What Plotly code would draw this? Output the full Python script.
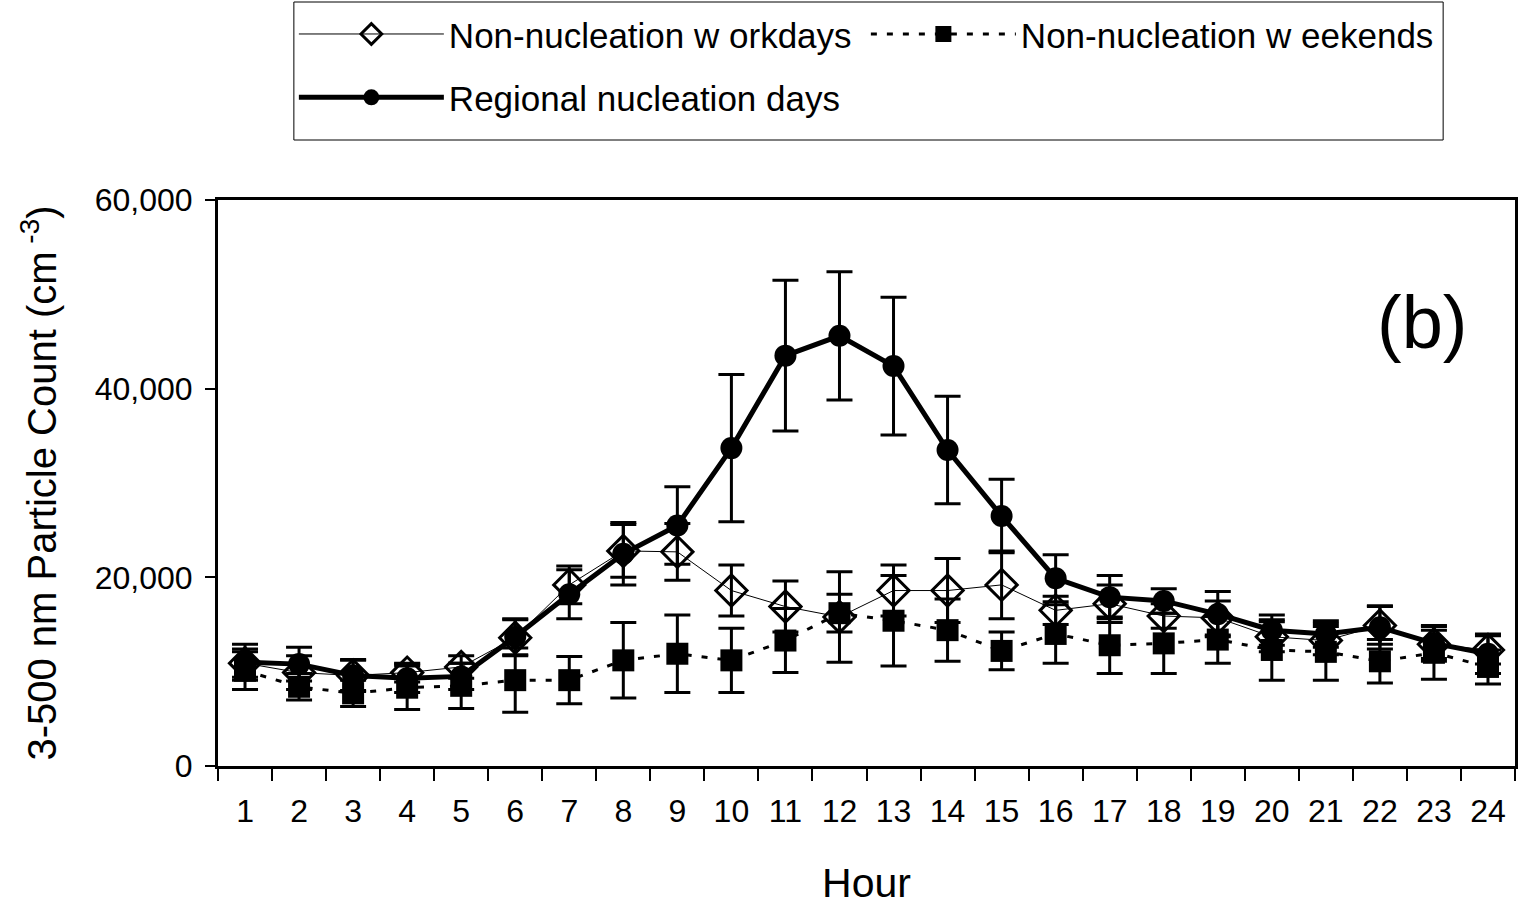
import plotly.graph_objects as go

hours = [str(h) for h in range(1, 25)]

workdays = [10900, 9900, 9600, 9900, 10500, 13600, 19200, 22800, 22700, 18600, 16900, 15800,
            18600, 18600, 19200, 16500, 17200, 15900, 15700, 13700, 13300, 14900, 12900, 12300]
workdays_err = [1500, 1800, 1600, 1000, 1200, 1900, 2000, 2800, 3000, 2700, 2700, 4800,
                2700, 3400, 3600, 1500, 2000, 1300, 1800, 1600, 1500, 2000, 1500, 1500]

weekends = [10100, 8400, 7700, 8300, 8500, 9100, 9100, 11200, 11900, 11200, 13300, 16200,
            15400, 14400, 12200, 14000, 12800, 13000, 13400, 12300, 12100, 11100, 12000, 10500]
weekends_err = [2000, 1400, 1400, 2300, 2400, 3400, 2500, 4000, 4100, 3400, 3400, 2000,
                4800, 3300, 2000, 3100, 3000, 3200, 2500, 3200, 3000, 2300, 2800, 1800]

nucleation = [11000, 10800, 9600, 9300, 9500, 13700, 18200, 22500, 25500, 33700, 43500, 45600,
              42400, 33500, 26500, 19900, 17900, 17500, 16100, 14400, 14000, 14700, 13000, 11900]
nucleation_err = [1900, 1800, 1700, 1500, 1400, 1900, 2600, 3300, 4100, 7800, 8000, 6800,
                  7300, 5700, 3900, 2500, 2300, 1300, 2400, 1600, 1400, 2300, 1900, 2100]

FONT = "Liberation Sans, Arial, sans-serif"

fig = go.Figure()

fig.add_trace(go.Scatter(
    x=hours, y=workdays, name="Non-nucleation w orkdays", mode="lines+markers",
    line=dict(color="black", width=1),
    marker=dict(symbol="diamond-open", size=24, color="black", line=dict(width=3, color="black")),
    error_y=dict(type="data", array=workdays_err, thickness=3, width=13, color="black"),
    legend="legend",
))
fig.add_trace(go.Scatter(
    x=hours, y=weekends, name="Non-nucleation w eekends", mode="lines+markers",
    line=dict(color="black", width=3, dash="6px,10px"),
    marker=dict(symbol="square", size=22, color="black"),
    error_y=dict(type="data", array=weekends_err, thickness=3, width=13, color="black"),
    legend="legend",
))
fig.add_trace(go.Scatter(
    x=hours, y=nucleation, name="Regional nucleation days", mode="lines+markers",
    line=dict(color="black", width=5),
    marker=dict(symbol="circle", size=22, color="black"),
    error_y=dict(type="data", array=nucleation_err, thickness=3, width=13, color="black"),
    legend="legend2",
))

fig.add_annotation(text="(b)", x=0.928, y=0.783, xref="paper", yref="paper",
                   xanchor="center", yanchor="middle",
                   showarrow=False, font=dict(family=FONT, size=74, color="black"))

# frame around the two legend rows
fig.add_shape(type="rect", xref="paper", yref="paper",
              x0=0.0585, x1=0.9446, y0=1.106, y1=1.3498,
              line=dict(color="black", width=1), fillcolor="rgba(0,0,0,0)")

legend_common = dict(
    orientation="h", xanchor="left", yanchor="top",
    borderwidth=0, bgcolor="rgba(0,0,0,0)",
    font=dict(family=FONT, size=35, color="black"),
    itemwidth=145, entrywidth=412, entrywidthmode="pixels",
    traceorder="normal",
)

fig.update_layout(
    width=1522, height=906,
    margin=dict(l=218, r=4, t=200, b=140),
    paper_bgcolor="white", plot_bgcolor="white",
    font=dict(family=FONT, color="black", size=32),
    showlegend=True,
    legend=dict(legend_common, x=0.0585, y=1.345),
    legend2=dict(legend_common, x=0.0585, y=1.233),
    xaxis=dict(
        type="category", range=[-0.5, 23.5], tickson="boundaries",
        ticks="outside", ticklen=12, tickwidth=1.5, tickcolor="black",
        ticklabelstandoff=15,
        showline=True, linecolor="black", linewidth=3, mirror=True,
        showgrid=False, zeroline=False,
        tickfont=dict(family=FONT, size=32, color="black"),
        title=dict(text="Hour", font=dict(family=FONT, size=41, color="black"), standoff=44),
    ),
    yaxis=dict(
        range=[0, 60000], tickvals=[0, 20000, 40000, 60000],
        ticktext=["0", "20,000", "40,000", "60,000"],
        ticks="outside", ticklen=10, tickwidth=1.5, tickcolor="black",
        ticklabelstandoff=6,
        showline=True, linecolor="black", linewidth=3, mirror=True,
        showgrid=False, zeroline=False,
        tickfont=dict(family=FONT, size=32, color="black"),
        title=dict(text="3-500 nm Particle Count (cm<sup> -3</sup>)",
                   font=dict(family=FONT, size=40, color="black"), standoff=26),
    ),
)

fig.write_html("out.html")
